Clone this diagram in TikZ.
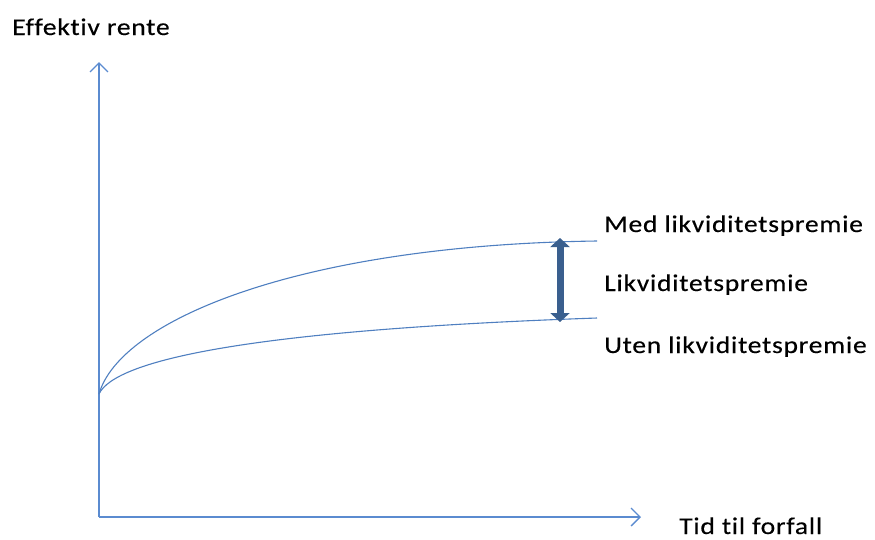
\documentclass[tikz,border=0pt]{standalone}
\usepackage{fontspec}
\setmainfont{Carlito}[FakeStretch=1.15,LetterSpace=3,FakeBold=0.3,Ligatures={NoCommon}]
\usetikzlibrary{arrows.meta}
\definecolor{axisblue}{HTML}{5B8BD0}
\definecolor{curveblue}{HTML}{4F7FC0}
\definecolor{darkblue}{HTML}{3A5F8E}
\begin{document}
\begin{tikzpicture}[x=1pt,y=-1pt,
  axis/.style={draw=axisblue,line width=1.3pt,-{Straight Barb[length=9pt,width=18pt,line width=1.3pt]}},
  curve/.style={draw=curveblue,line width=1.1pt},
  premium/.style={draw=darkblue,line width=7pt,{Triangle[length=9pt,width=19pt]}-{Triangle[length=9pt,width=19pt]}},
  lbl/.style={font=\fontsize{24}{28}\selectfont,text=black,inner sep=0pt,anchor=base west}]
\useasboundingbox (0,0) rectangle (875,539);
\coordinate (O) at (99,517);
\coordinate (ytop) at (99,62);
\coordinate (xend) at (641,517);
\coordinate (start) at (99,394);
\coordinate (upend) at (597,241);
\coordinate (loend) at (597,318);
\coordinate (ptop) at (560,238);
\coordinate (pbot) at (560,322);
\draw[axis] (O) -- (ytop);
\draw[axis] (O) -- (xend);
\draw[curve] (start) .. controls (120,320) and (300,245) .. (upend);
\draw[curve] (start) .. controls (115,360) and (250,330) .. (loend);
\draw[premium] (ptop) -- (pbot);
\node[lbl] (ylab) at (12,35) {Effektiv rente};
\node[lbl] (xlab) at (679,534) {Tid til forfall};
\node[lbl] (med) at (604,232) {Med likviditetspremie};
\node[lbl] (lik) at (604,291) {Likviditetspremie};
\node[lbl] (uten) at (604,353) {Uten likviditetspremie};
\end{tikzpicture}
\end{document}
